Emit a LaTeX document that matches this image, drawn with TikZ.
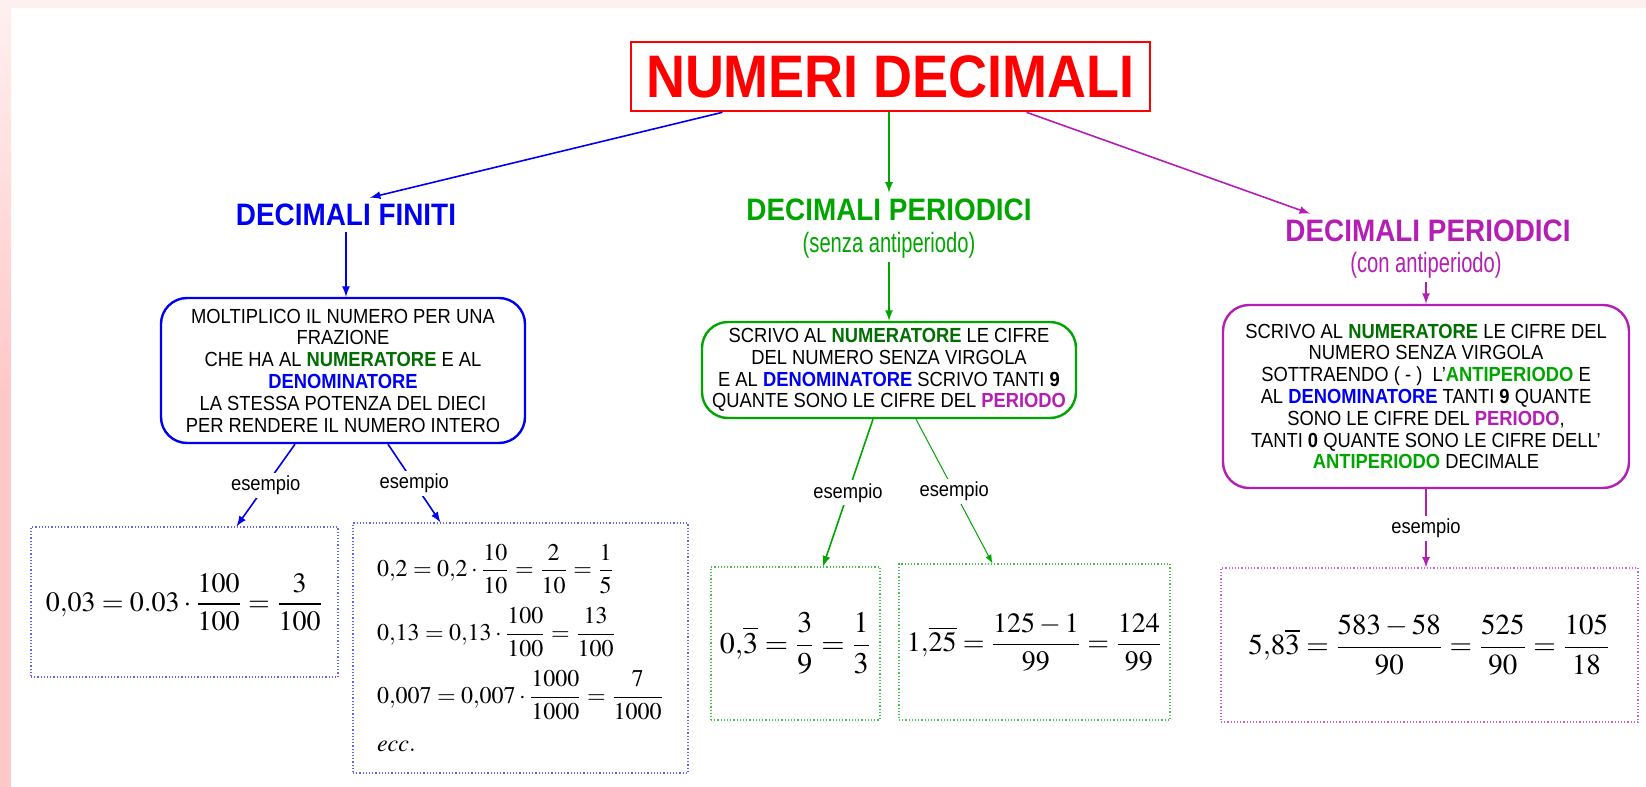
\documentclass[tikz,border=0pt]{standalone}
\usepackage{amsmath}
\usepackage{mathptmx}
\usepackage{fontspec}
\setmainfont{Liberation Sans}[FakeStretch=0.9]
\newfontfamily\narrowsans[FakeStretch=0.72]{Liberation Sans}
\usepackage{xcolor}
\usepackage{tikz}
\definecolor{titlered}{RGB}{255,0,0}
\definecolor{finblue}{RGB}{0,0,240}
\definecolor{pergreen}{RGB}{0,165,0}
\definecolor{numgreen}{RGB}{0,110,0}
\definecolor{antipurple}{RGB}{180,30,180}
\definecolor{edgepink}{RGB}{255,200,200}
\definecolor{toppink}{RGB}{255,240,240}
\newcommand{\numword}{\textbf{\color{numgreen}NUMERATORE}}
\newcommand{\denword}{\textbf{\color{finblue}DENOMINATORE}}
\newcommand{\perword}{\textbf{\color{antipurple}PERIODO}}
\newcommand{\antiword}{\textbf{\color{pergreen}ANTIPERIODO}}

\begin{document}
\begin{tikzpicture}[x=0.5pt,y=-0.5pt,>=latex,
    every node/.style={font=\fontsize{10.2}{10.9}\selectfont},
    headbox/.style={draw=titlered,line width=1.3pt,text=titlered,
      minimum width=259.5pt,minimum height=34.5pt,
      font=\fontsize{30}{32}\selectfont\bfseries},
    kindhead/.style={inner sep=3pt,font=\fontsize{15.5}{17}\selectfont\bfseries},
    kindsub/.style={inner sep=2pt,font=\fontsize{14}{16}\selectfont\narrowsans},
    rulebox/.style={draw,rounded corners=13pt,line width=1.2pt,align=center,inner sep=2pt},
    examplebox/.style={draw,densely dotted,line width=0.6pt,align=left},
    link/.style={->,line width=0.8pt},
    esempio/.style={fill=white,inner sep=1.5pt,text=black}]
  % sfondo
  \useasboundingbox (0,0) rectangle (1646,787);
  \fill[white] (0,0) rectangle (1646,787);
  \fill[toppink] (0,0) rectangle (1646,8);
  \shade[top color=toppink,bottom color=edgepink,middle color=edgepink] (0,0) rectangle (11,787);

  \node[headbox] (title) at (890.5,76.5) {NUMERI DECIMALI};

  % tre tipi
  \node[kindhead,text=finblue] (fin) at (346,215) {DECIMALI FINITI};
  \node[kindhead,text=pergreen] (perhead) at (889,210) {DECIMALI PERIODICI};
  \node[kindsub,text=pergreen] (persub) at (889,245) {(senza antiperiodo)};
  \node[kindhead,text=antipurple] (anthead) at (1428,231) {DECIMALI PERIODICI};
  \node[kindsub,text=antipurple] (antsub) at (1426,265) {(con antiperiodo)};

  \draw[link,finblue] ([xshift=-84pt]title.south) -- ([xshift=12pt]fin.north);
  \draw[link,pergreen] (title.south -| perhead.north) -- (perhead.north);
  \draw[link,antipurple] ([xshift=68pt]title.south) -- ([xshift=-59pt]anthead.north);

  % regole
  \node[rulebox,draw=finblue,minimum width=182pt,minimum height=72.5pt] (finrule) at (343,370.5)
    {MOLTIPLICO IL NUMERO PER UNA\\ FRAZIONE\\ CHE HA AL \numword{} E AL\\ \denword\\
     LA STESSA POTENZA DEL DIECI\\ PER RENDERE IL NUMERO INTERO};
  \node[rulebox,draw=pergreen,minimum width=187pt,minimum height=48pt] (perrule) at (889,370)
    {SCRIVO AL \numword{} LE CIFRE\\ DEL NUMERO SENZA VIRGOLA\\
     E AL \denword{} SCRIVO TANTI \textbf{9}\\ QUANTE SONO LE CIFRE DEL \perword};
  \node[rulebox,draw=antipurple,minimum width=203pt,minimum height=91.5pt] (antrule) at (1426,396.5)
    {SCRIVO AL \numword{} LE CIFRE DEL\\ NUMERO SENZA VIRGOLA\\
     SOTTRAENDO ( - )\ \ L'\antiword{} E\\ AL \denword{} TANTI \textbf{9} QUANTE\\
     SONO LE CIFRE DEL \perword,\\ TANTI \textbf{0} QUANTE SONO LE CIFRE DELL'\\
     \antiword{} DECIMALE};

  \draw[link,finblue] (fin.south) -- (fin.south |- finrule.north);
  \draw[link,pergreen] (persub.south) -- (perrule.north);
  \draw[link,antipurple] (antsub.south) -- (antrule.north);

  % esempi
  \node[examplebox,draw=finblue!60,minimum width=153.5pt,minimum height=75pt,
    font=\fontsize{14}{16}\selectfont] (ex1) at (184.5,602)
    {$0{,}03=0.03\cdot\dfrac{100}{100}=\dfrac{3}{100}$};
  \node[examplebox,draw=finblue!60,minimum width=167.5pt,minimum height=125pt,
    font=\fontsize{12}{14}\selectfont] (ex2) at (520.5,648)
    {$0{,}2=0{,}2\cdot\dfrac{10}{10}=\dfrac{2}{10}=\dfrac{1}{5}$\\[6pt]
     $0{,}13=0{,}13\cdot\dfrac{100}{100}=\dfrac{13}{100}$\\[6pt]
     $0{,}007=0{,}007\cdot\dfrac{1000}{1000}=\dfrac{7}{1000}$\\[10pt]
     $ecc.$};
  \node[examplebox,draw=pergreen!70,minimum width=84.5pt,minimum height=76.5pt,
    font=\fontsize{15}{17}\selectfont] (ex3) at (795.5,643.5)
    {$0{,}\overline{3}=\dfrac{3}{9}=\dfrac{1}{3}$};
  \node[examplebox,draw=pergreen!70,minimum width=135.5pt,minimum height=78pt,
    font=\fontsize{14}{16}\selectfont] (ex4) at (1034.5,642)
    {$1{,}\overline{25}=\dfrac{125-1}{99}=\dfrac{124}{99}$};
  \node[examplebox,draw=antipurple!70,minimum width=208.5pt,minimum height=77pt,
    font=\fontsize{14.5}{17}\selectfont] (ex5) at (1429.5,645)
    {$5{,}8\overline{3}=\dfrac{583-58}{90}=\dfrac{525}{90}=\dfrac{105}{18}$};

  \draw[link,finblue] ([xshift=-24pt]finrule.south) -- node[esempio]{esempio} ([xshift=26pt]ex1.north);
  \draw[link,finblue] ([xshift=22.5pt]finrule.south) -- node[esempio]{esempio} ([xshift=-40pt]ex2.north);
  \draw[link,pergreen] ([xshift=-8pt]perrule.south) -- node[esempio]{esempio} ([xshift=13.75pt]ex3.north);
  \draw[->,pergreen,line width=0.5pt] ([xshift=13.5pt]perrule.south) -- node[esempio]{esempio} ([xshift=-21pt]ex4.north);
  \draw[link,antipurple] (antrule.south) -- node[esempio]{esempio} (antrule.south |- ex5.north);
\end{tikzpicture}
\end{document}
